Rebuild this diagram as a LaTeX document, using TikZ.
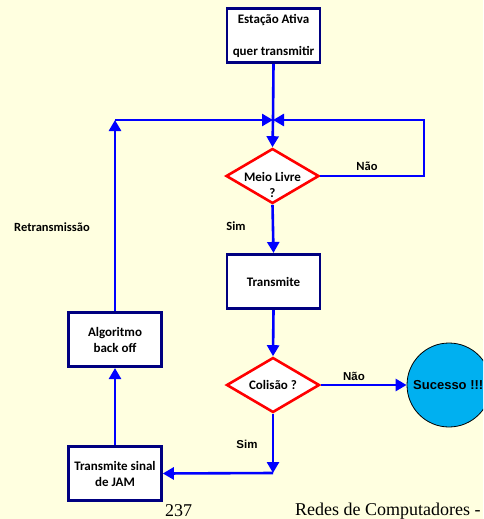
\documentclass[tikz,border=0pt]{standalone}
\usepackage{fontspec}
\setmainfont{Carlito}
\newfontfamily\arialf{Liberation Sans}
\newfontfamily\timesf{Liberation Serif}
\usetikzlibrary{arrows.meta,shapes.geometric}
\definecolor{bg}{RGB}{255,255,224}
\definecolor{navy}{RGB}{0,0,128}
\definecolor{lineblue}{RGB}{0,0,255}
\definecolor{cyanfill}{RGB}{0,176,240}
\begin{document}
\begin{tikzpicture}[x=1pt,y=-1pt,
  box/.style={draw=navy,line width=2.6pt,fill=white,minimum width=93pt,minimum height=54.5pt,inner sep=0pt,align=center,font=\bfseries\fontsize{13}{16}\selectfont},
  dec/.style={diamond,draw=red,line width=2.6pt,fill=white,minimum width=93pt,minimum height=55pt,inner sep=0pt},
  txt/.style={inner sep=0pt,align=center,font=\bfseries\fontsize{13}{16}\selectfont},
  lbl/.style={inner sep=0pt,font=\bfseries\fontsize{12.5}{15}\selectfont},
  atxt/.style={inner sep=0pt,font=\arialf\bfseries\fontsize{11.5}{14}\selectfont},
  flow/.style={draw=lineblue,line width=2.6pt,-{Triangle[length=11pt,width=12pt]}},
  plain/.style={draw=lineblue,line width=2.6pt},
]
\useasboundingbox (0,0) rectangle (483,519);
\clip (0,0) rectangle (483,519);
\fill[bg] (0,0) rectangle (483,519);

\node[box] (est) at (273.5,35.5) {Estação Ativa\\[16pt]quer transmitir};
\node[dec] (meio) at (272.5,176) {};
\node[txt] (meiot) at (272.5,185) {Meio Livre\\?};
\node[box] (tx) at (273.5,281.5) {Transmite};
\node[dec] (col) at (273,385) {};
\node[txt] (colt) at (273,385) {Colisão ?};
\node[circle,draw=black,line width=0.8pt,fill=cyanfill,minimum size=84pt,inner sep=0pt] (suc) at (449,385) {};
\node[inner sep=0pt,font=\arialf\bfseries\fontsize{13}{16}\selectfont,anchor=west] (suct) at (413,385) {Sucesso !!!};
\node[box] (alg) at (115,339.5) {Algoritmo\\back off};
\node[box] (jam) at (115,473.5) {Transmite sinal\\de JAM};

\coordinate (J) at (273,120);
\coordinate (L) at (115,120);
\coordinate (R) at (424,120);
\coordinate (C) at (273,473);

\draw[plain] (est.south) -- (J);
\draw[flow] (J) -- (meio.north);
\draw[flow] (meio.east) -| (R) -- (J);
\draw[flow] (alg.north) -- (L);
\draw[flow] (L) -- (J);
\draw[flow] (meio.south) -- (tx.north);
\draw[flow] (tx.south) -- (col.north);
\draw[flow] (col.east) -- (suc.west);
\draw[flow] (col.south) -- (C);
\draw[flow] (C) -- (jam.east);
\draw[flow] (jam.north) -- (alg.south);

\node[lbl] (nao1) at (367,166) {Não};
\node[lbl] (sim1) at (236,226) {Sim};
\node[lbl] (retx) at (52,227) {Retransmissão};
\node[atxt] (nao2) at (354,376) {Não};
\node[atxt] (sim2) at (247,444) {Sim};

\node[inner sep=0pt,font=\timesf\fontsize{18}{20}\selectfont,anchor=base west] (pg) at (165,516) {237};
\node[inner sep=0pt,font=\timesf\fontsize{18}{20}\selectfont,anchor=base west] (foot) at (295,515) {Redes de Computadores -};
\end{tikzpicture}
\end{document}
